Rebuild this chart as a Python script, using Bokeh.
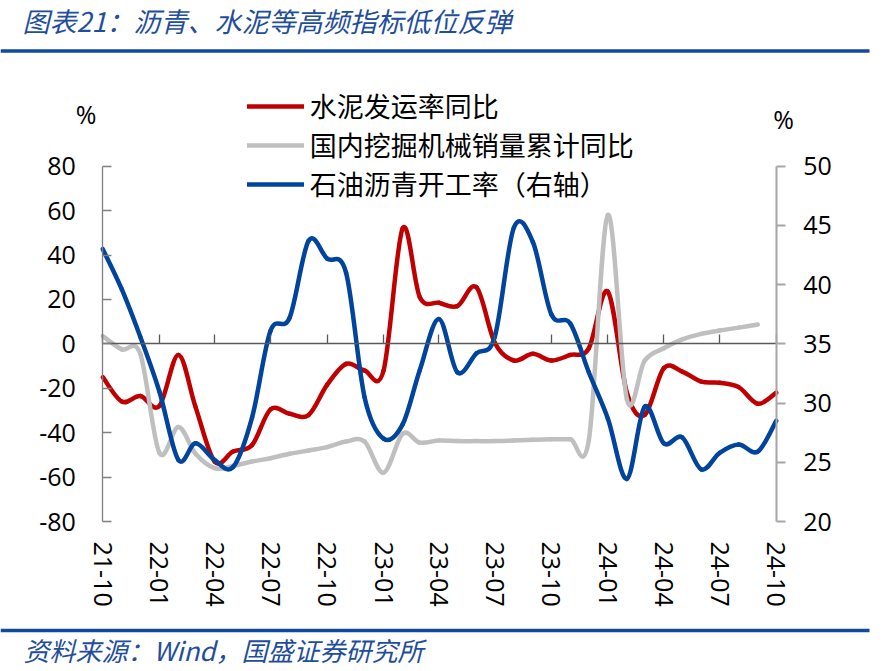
import pandas as pd
from bokeh.plotting import figure
from bokeh.models import (Range1d, LinearAxis, DatetimeAxis, FixedTicker, Legend, LegendItem,
                          Label, BoxAnnotation, ColumnDataSource)
from bokeh.embed import file_html
from bokeh.resources import INLINE

# ---------------- data ----------------
month_labels = ["2021-10", "2021-11", "2021-12", "2022-01", "2022-02", "2022-03", "2022-04",
                "2022-05", "2022-06", "2022-07", "2022-08", "2022-09", "2022-10", "2022-11",
                "2022-12", "2023-01", "2023-02", "2023-03", "2023-04", "2023-05", "2023-06",
                "2023-07", "2023-08", "2023-09", "2023-10", "2023-11", "2023-12", "2024-01",
                "2024-02", "2024-03", "2024-04", "2024-05", "2024-06", "2024-07", "2024-08",
                "2024-09", "2024-10"]

cement_yoy = [-15, -26, -23.5, -28, -5, -28.5, -53, -48.5, -45.5, -29.5, -31.5, -32, -18.5, -9,
              -12, -12, 52, 21, 18.5, 17, 25.5, 0.5, -7.5, -4.5, -7.5, -5, -2, 23.5, -22, -32,
              -11, -12.5, -17, -17.5, -19.5, -27, -22]

excavator_cum_yoy = [3.5, -2.5, -4.5, -49, -37.5, -49.5, -56, -55, -53, -51.5, -49.5, -48, -46.5,
                     -44, -44, -58, -40.5, -44.5, -43.5, -43.8, -43.8, -43.8, -43.5, -43.2, -43,
                     -43, -43.5, 58, -25, -7.5, -2, 2, 4.5, 6, 7.3, 8.7]

asphalt_rate = [43.0, 39.6, 35.6, 31.0, 25.2, 26.6, 25.2, 24.6, 28.8, 36.1, 37.2, 43.7, 42.2,
                41.0, 30.5, 27.0, 28.2, 32.8, 37.1, 32.6, 34.2, 35.6, 44.8, 43.6, 37.5, 36.7,
                32.6, 28.7, 23.6, 29.7, 26.6, 27.1, 24.4, 25.8, 26.5, 25.9, 28.5]

x_tick_labels = ["21-10", "22-01", "22-04", "22-07", "22-10", "23-01", "23-04", "23-07",
                 "23-10", "24-01", "24-04", "24-07", "24-10"]
left_ticks = [-80, -60, -40, -20, 0, 20, 40, 60, 80]
left_tick_labels = ["-80", "-60", "-40", "-20", "0", "20", "40", "60", "80"]
right_ticks = [20, 25, 30, 35, 40, 45, 50]
right_tick_labels = ["20", "25", "30", "35", "40", "45", "50"]

series_names = ["水泥发运率同比", "国内挖掘机械销量累计同比", "石油沥青开工率（右轴）"]
title_text = "图表21：沥青、水泥等高频指标低位反弹"
source_text = "资料来源：Wind，国盛证券研究所"

# ---------------- style / layout ----------------
RED = "#C00000"
GRAY = "#BFBFBF"
BLUE = "#00449E"
NAVY = "#0F4A9E"
TITLE_BLUE = "#1F4E9B"
NUM_FONT = "Open Sans"
CJK_FONT = "Noto Sans CJK SC"

W, H = 892, 671
PLOT_L, PLOT_R = 102.3, 775.7      # pixel columns of the first / last month
PLOT_T, PLOT_B = 165.7, 521.0      # pixel rows of the axis top / bottom


def to_ms(s):
    return pd.Timestamp(s + "-01").value / 1e6


month_ms = [to_ms(m) for m in month_labels]
tick_ms = [to_ms("20" + t) for t in x_tick_labels]

# ranges extended so that the whole canvas is the frame (keeps every annotation visible)
t0, t1 = month_ms[0], month_ms[-1]
ms_per_px = (t1 - t0) / (PLOT_R - PLOT_L)
x_start = t0 - PLOT_L * ms_per_px
x_end = t1 + (W - PLOT_R) * ms_per_px

lo, hi = left_ticks[0], left_ticks[-1]
u_left = (hi - lo) / (PLOT_B - PLOT_T)
yl_start = lo - (H - PLOT_B) * u_left
yl_end = hi + PLOT_T * u_left

rlo, rhi = right_ticks[0], right_ticks[-1]
u_right = (rhi - rlo) / (PLOT_B - PLOT_T)
yr_start = rlo - (H - PLOT_B) * u_right
yr_end = rhi + PLOT_T * u_right


def smooth_source(xs, ys):
    """Bezier segments through the data points (Excel-style smoothed line)."""
    n = len(xs)
    d = dict(x0=[], y0=[], x1=[], y1=[], cx0=[], cy0=[], cx1=[], cy1=[])
    for i in range(n - 1):
        a = i - 1 if i > 0 else i
        b = i + 2 if i + 2 < n else i + 1
        d["x0"].append(xs[i]); d["y0"].append(ys[i])
        d["x1"].append(xs[i + 1]); d["y1"].append(ys[i + 1])
        d["cx0"].append(xs[i] + (xs[i + 1] - xs[a]) / 6.0)
        d["cy0"].append(ys[i] + (ys[i + 1] - ys[a]) / 6.0)
        d["cx1"].append(xs[i + 1] - (xs[b] - xs[i]) / 6.0)
        d["cy1"].append(ys[i + 1] - (ys[b] - ys[i]) / 6.0)
    return ColumnDataSource(d)


p = figure(width=W, height=H, x_axis_type=None, y_axis_type=None,
           x_range=Range1d(x_start, x_end), y_range=Range1d(yl_start, yl_end),
           output_backend="svg", toolbar_location=None,
           min_border_left=0, min_border_right=0, min_border_top=0, min_border_bottom=0)
p.title.visible = False
p.extra_y_ranges = {"right": Range1d(yr_start, yr_end)}
p.outline_line_color = None
p.background_fill_color = "white"
p.border_fill_color = "white"

LW = 4.5
r_red = p.bezier(x0="x0", y0="y0", x1="x1", y1="y1", cx0="cx0", cy0="cy0", cx1="cx1", cy1="cy1",
                 source=smooth_source(month_ms, cement_yoy), line_color=RED, line_width=LW,
                 line_cap="round")
r_gray = p.bezier(x0="x0", y0="y0", x1="x1", y1="y1", cx0="cx0", cy0="cy0", cx1="cx1", cy1="cy1",
                  source=smooth_source(month_ms[:len(excavator_cum_yoy)], excavator_cum_yoy),
                  line_color=GRAY, line_width=LW, line_cap="round")
r_blue = p.bezier(x0="x0", y0="y0", x1="x1", y1="y1", cx0="cx0", cy0="cy0", cx1="cx1", cy1="cy1",
                  source=smooth_source(month_ms, asphalt_rate), line_color=BLUE, line_width=LW,
                  line_cap="round", y_range_name="right")

# x labels axis, fixed at the bottom of the value axis
xa = DatetimeAxis(ticker=FixedTicker(ticks=tick_ms), fixed_location=lo)
xa.major_label_overrides = {t: lab for t, lab in zip(tick_ms, x_tick_labels)}
xa.major_label_orientation = "vertical"
xa.axis_line_color = None
xa.major_tick_line_color = None
xa.minor_tick_line_color = None
xa.major_tick_in = 0
xa.major_tick_out = 0
xa.major_label_standoff = 20
xa.major_label_text_font = NUM_FONT
xa.major_label_text_font_size = "25px"
xa.major_label_text_color = "black"
p.add_layout(xa, "below")

# zero line axis with ticks pointing up
za = DatetimeAxis(ticker=FixedTicker(ticks=tick_ms), fixed_location=0, bounds=(t0, t1))
za.major_label_overrides = {t: "" for t in tick_ms}
za.major_label_text_font_size = "1px"
za.axis_line_color = "#595959"
za.axis_line_width = 1.3
za.major_tick_line_color = "#595959"
za.major_tick_line_width = 1.3
za.major_tick_in = 9
za.major_tick_out = 0
za.minor_tick_line_color = None
p.add_layout(za, "below")

# left axis
ya = LinearAxis(ticker=FixedTicker(ticks=left_ticks), fixed_location=t0, bounds=(lo, hi))
ya.major_label_overrides = {t: lab for t, lab in zip(left_ticks, left_tick_labels)}
ya.axis_line_color = "#7F7F7F"
ya.axis_line_width = 1.3
ya.major_tick_line_color = "#7F7F7F"
ya.major_tick_line_width = 1.3
ya.major_tick_in = 9
ya.major_tick_out = 0
ya.minor_tick_line_color = None
ya.major_label_standoff = 27
ya.major_label_text_font = NUM_FONT
ya.major_label_text_font_size = "25px"
ya.major_label_text_color = "black"
p.add_layout(ya, "left")

# right axis
ra = LinearAxis(y_range_name="right", ticker=FixedTicker(ticks=right_ticks),
                fixed_location=t1, bounds=(rlo, rhi))
ra.major_label_overrides = {t: lab for t, lab in zip(right_ticks, right_tick_labels)}
ra.axis_line_color = "#A6A6A6"
ra.axis_line_width = 2
ra.major_tick_line_color = "#A6A6A6"
ra.major_tick_line_width = 2
ra.major_tick_in = 0
ra.major_tick_out = 9
ra.minor_tick_line_color = None
ra.major_label_standoff = 18
ra.major_label_text_font = NUM_FONT
ra.major_label_text_font_size = "25px"
ra.major_label_text_color = "black"
p.add_layout(ra, "right")

# legend (location = bottom-left corner, screen px from the frame's bottom-left)
legend = Legend(items=[LegendItem(label=series_names[0], renderers=[r_red]),
                       LegendItem(label=series_names[1], renderers=[r_gray]),
                       LegendItem(label=series_names[2], renderers=[r_blue])],
                location=(246.7, H - 203.3), orientation="vertical",
                label_text_font=CJK_FONT, label_text_font_size="27px", label_text_color="black",
                glyph_width=57, glyph_height=30, label_height=30, label_standoff=6,
                spacing=-5, padding=0, margin=0,
                border_line_color=None, background_fill_alpha=0)
p.add_layout(legend)

# unit labels
p.add_layout(Label(x=85.5, y=H - 113, x_units="screen", y_units="screen", text="%",
                   text_font=NUM_FONT, text_font_size="25px", text_align="center",
                   text_baseline="middle", text_color="black"))
p.add_layout(Label(x=783, y=H - 118, x_units="screen", y_units="screen", text="%",
                   text_font=NUM_FONT, text_font_size="25px", text_align="center",
                   text_baseline="middle", text_color="black"))

# title, source and rules
p.add_layout(Label(x=22, y=H - 20, x_units="screen", y_units="screen", text=title_text,
                   text_font=CJK_FONT, text_font_size="27px", text_font_style="italic",
                   text_align="left", text_baseline="middle", text_color=TITLE_BLUE))
p.add_layout(Label(x=23, y=H - 649, x_units="screen", y_units="screen", text=source_text,
                   text_font=CJK_FONT, text_font_size="26px", text_font_style="italic",
                   text_align="left", text_baseline="middle", text_color=TITLE_BLUE))
p.add_layout(BoxAnnotation(left=0, right=869, top=H - 48.7, bottom=H - 52.2,
                           left_units="screen", right_units="screen",
                           top_units="screen", bottom_units="screen",
                           fill_color=NAVY, fill_alpha=1, line_color=None))
p.add_layout(BoxAnnotation(left=0, right=869, top=H - 628.3, bottom=H - 631.8,
                           left_units="screen", right_units="screen",
                           top_units="screen", bottom_units="screen",
                           fill_color=NAVY, fill_alpha=1, line_color=None))

open("out.html", "w").write(file_html(p, INLINE))
